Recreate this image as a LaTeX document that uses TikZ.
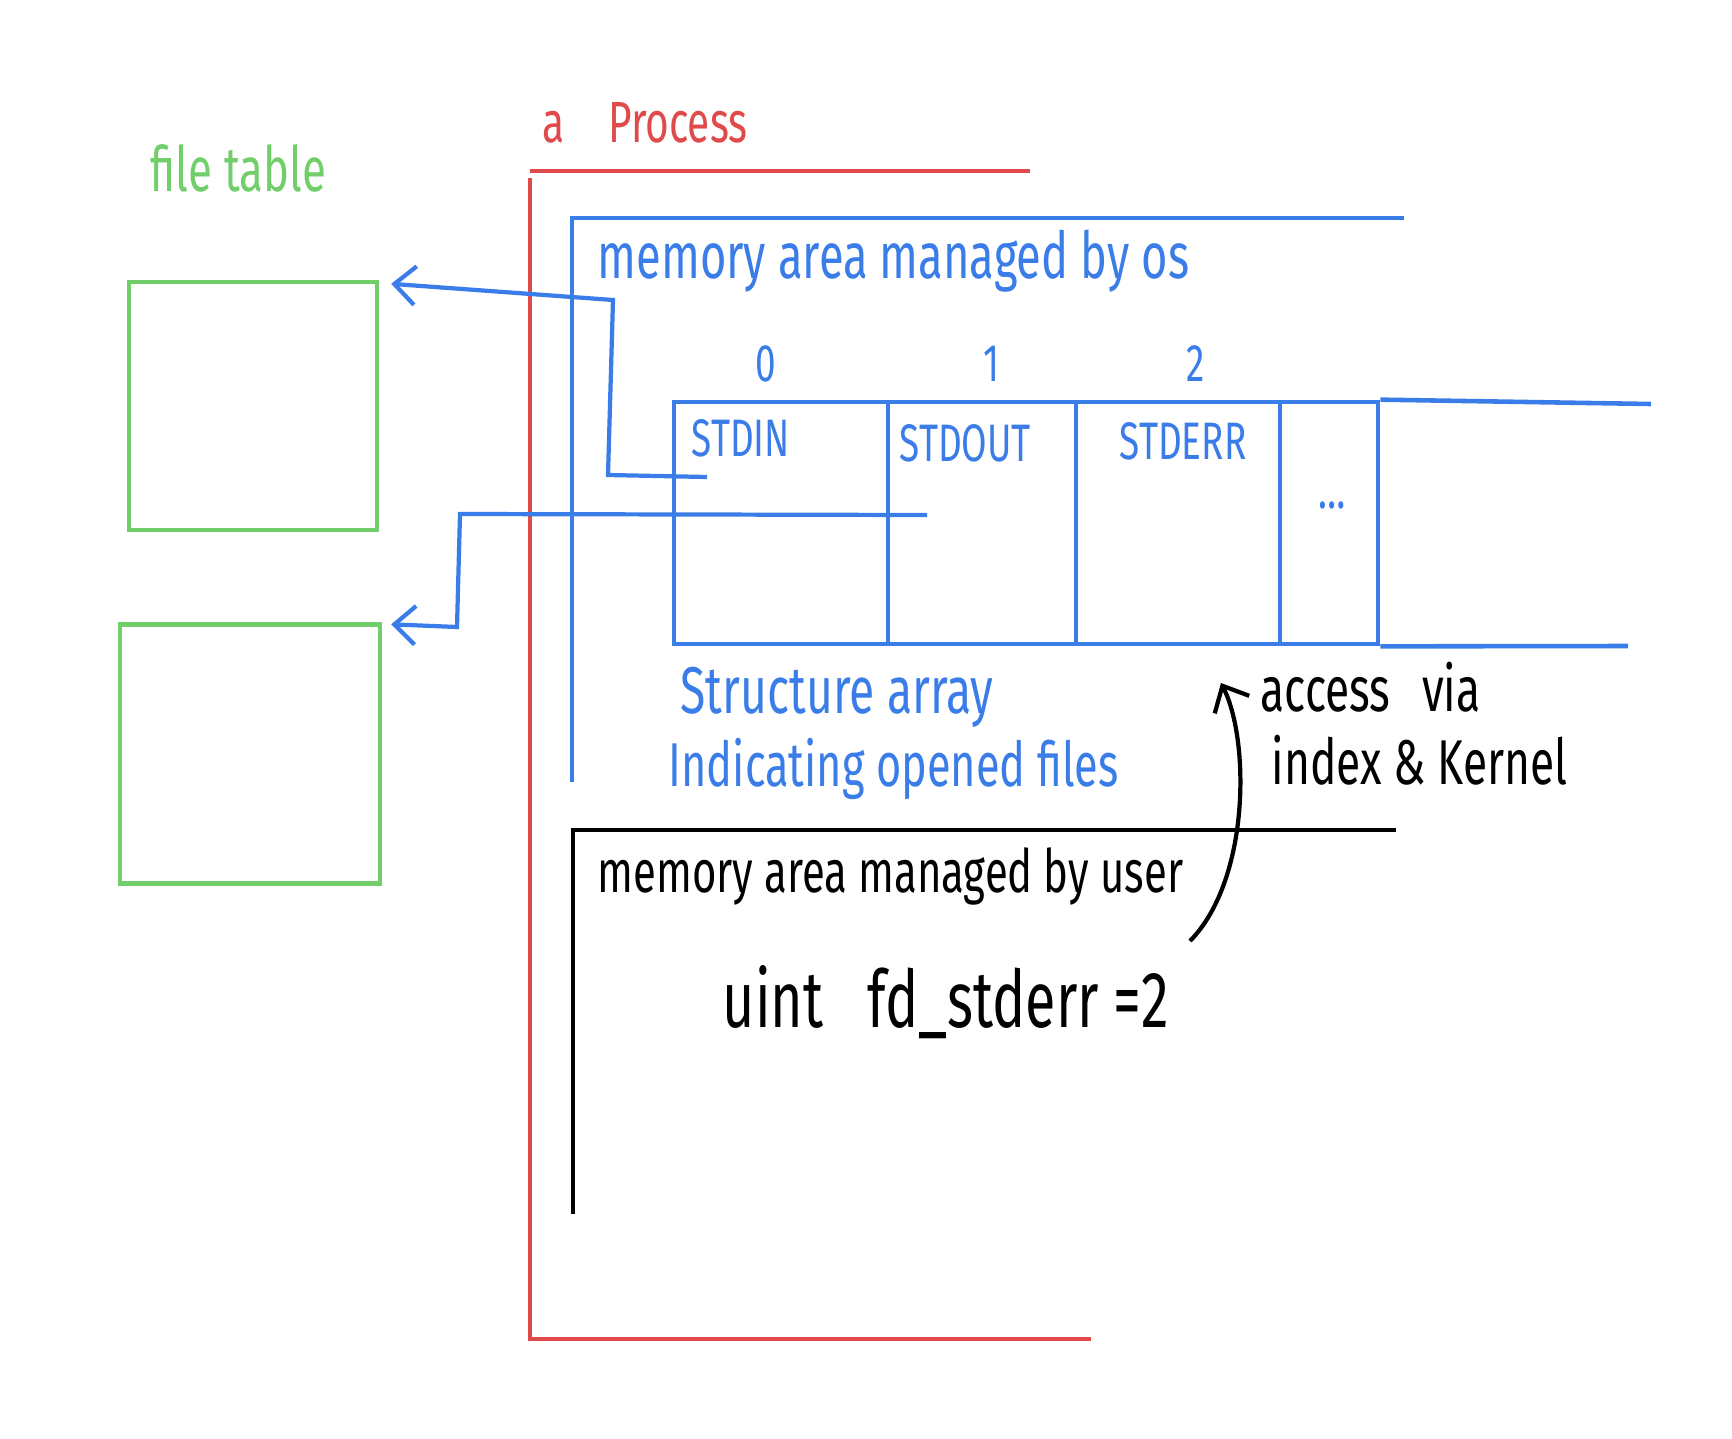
\documentclass[tikz,border=0pt]{standalone}
\usepackage{fontspec}
\setmainfont{Fira Sans}[FakeStretch=0.7]
\usetikzlibrary{arrows.meta,positioning,calc}
\definecolor{procred}{RGB}{224,74,74}
\definecolor{osblue}{RGB}{58,124,232}
\definecolor{ftgreen}{RGB}{114,206,106}
\tikzset{
  post/.style={->,>={Straight Barb[length=6pt,width=11pt]},line width=1.2pt},
  hand/.style={inner sep=0pt,anchor=base west,font={\fontsize{18}{22}\selectfont}},
}

\begin{document}
\begin{tikzpicture}[x=0.01cm,y=-0.01cm,
        ftbox/.style={rectangle, draw=ftgreen, line width=1.2pt, minimum width=2.48cm,
        minimum height=2.48cm},
        cell/.style={rectangle, draw=osblue, line width=1.3pt, minimum height=2.42cm,
        inner sep=0pt},
        wall/.style={line width=1.3pt}
        ]
    \useasboundingbox (0,0) rectangle (1732,1439);

    % file table
    \node[hand, text=ftgreen, font={\fontsize{17.8}{21}\selectfont}] (ftlabel) at (150,191) {file table};
    \node[ftbox] (ft1) at (253,406) {};
    \node[ftbox, minimum width=2.6cm, minimum height=2.59cm] (ft2) at (250,754) {};

    % the process
    \node[hand, text=procred, font={\fontsize{16.5}{20}\selectfont}] (proclabel) at (542,142) {a\hspace{0.75em}Process};
    \draw[wall, procred] (530,171) -- (1030,171);
    \draw[wall, procred] (530,178) -- (530,1339) -- (1091,1339);

    % memory area managed by os
    \draw[wall, osblue] (1404,218) -- (572,218) -- (572,782);
    \node[hand, text=osblue, font={\fontsize{18.4}{22}\selectfont}] (oslabel) at (597,278) {memory area managed by os};

    \node[cell, minimum width=2.14cm] (cell0) at (781,523) {};
    \node[cell, minimum width=1.88cm] (cell1) at (982,523) {};
    \node[cell, minimum width=2.04cm] (cell2) at (1178,523) {};
    \node[cell, minimum width=0.98cm] (cell3) at (1329,523) {};
    \coordinate (toptail) at (1651,404);
    \coordinate (bottail) at (1628,646);
    \draw[wall, osblue] (cell3.north east) -- (toptail);
    \draw[wall, osblue] (cell3.south east) -- (bottail);

    \node[text=osblue, font={\fontsize{15}{18}\selectfont}] (idx0) at (766,364) {0};
    \node[text=osblue, font={\fontsize{15}{18}\selectfont}] (idx1) at (991,364) {1};
    \node[text=osblue, font={\fontsize{15}{18}\selectfont}] (idx2) at (1196,364) {2};

    \node[hand, text=osblue, font={\fontsize{15}{18}\selectfont}] (stdin) at (691,456) {STDIN};
    \node[hand, text=osblue, font={\fontsize{15}{18}\selectfont}] (stdout) at (899,461) {STDOUT};
    \node[hand, text=osblue, font={\fontsize{15}{18}\selectfont}] (stderr) at (1119,459) {STDERR};
    \node[text=osblue, font={\fontsize{15}{18}\selectfont}] (more) at (1332,505) {\dots};

    \node[hand, text=osblue, font={\fontsize{18.8}{22}\selectfont}] (arrlabel) at (680,713) {Structure array};
    \node[hand, text=osblue, font={\fontsize{17.6}{20}\selectfont}] (arrlabel2) at (668,786) {Indicating opened files};

    % pointers to the file table
    \coordinate (in0) at (707,477);
    \coordinate (in1) at (927,515);
    \draw[post, osblue] (in0) -- (608,475) -- (613,300) -- ($(ft1.north east)+(12,4)$);
    \draw[post, osblue] (in1) -- (460,514) -- (457,627) -- ($(ft2.north east)+(9,2)$);

    % memory area managed by user
    \draw[wall, black] (1396,830) -- (573,830) -- (573,1214);
    \node[hand, font={\fontsize{17}{20}\selectfont}] (userlabel) at (597,892) {memory area managed by user};
    \node[hand, font={\fontsize{22.6}{26}\selectfont}] (fdvar) at (722,1027) {uint\hspace{0.55em}fd\_stderr =2};

    % access via index
    \coordinate (fdend) at (1190,941);
    \coordinate (arrtip) at (1221,683);
    \draw[post, black] (fdend) .. controls (1250,880) and (1250,740) .. (arrtip);
    \node[hand] (acclabel) at (1260,711) {access\hspace{0.5em}via};
    \node[hand] (acclabel2) at (1271,784) {index \& Kernel};

\end{tikzpicture}
\end{document}
